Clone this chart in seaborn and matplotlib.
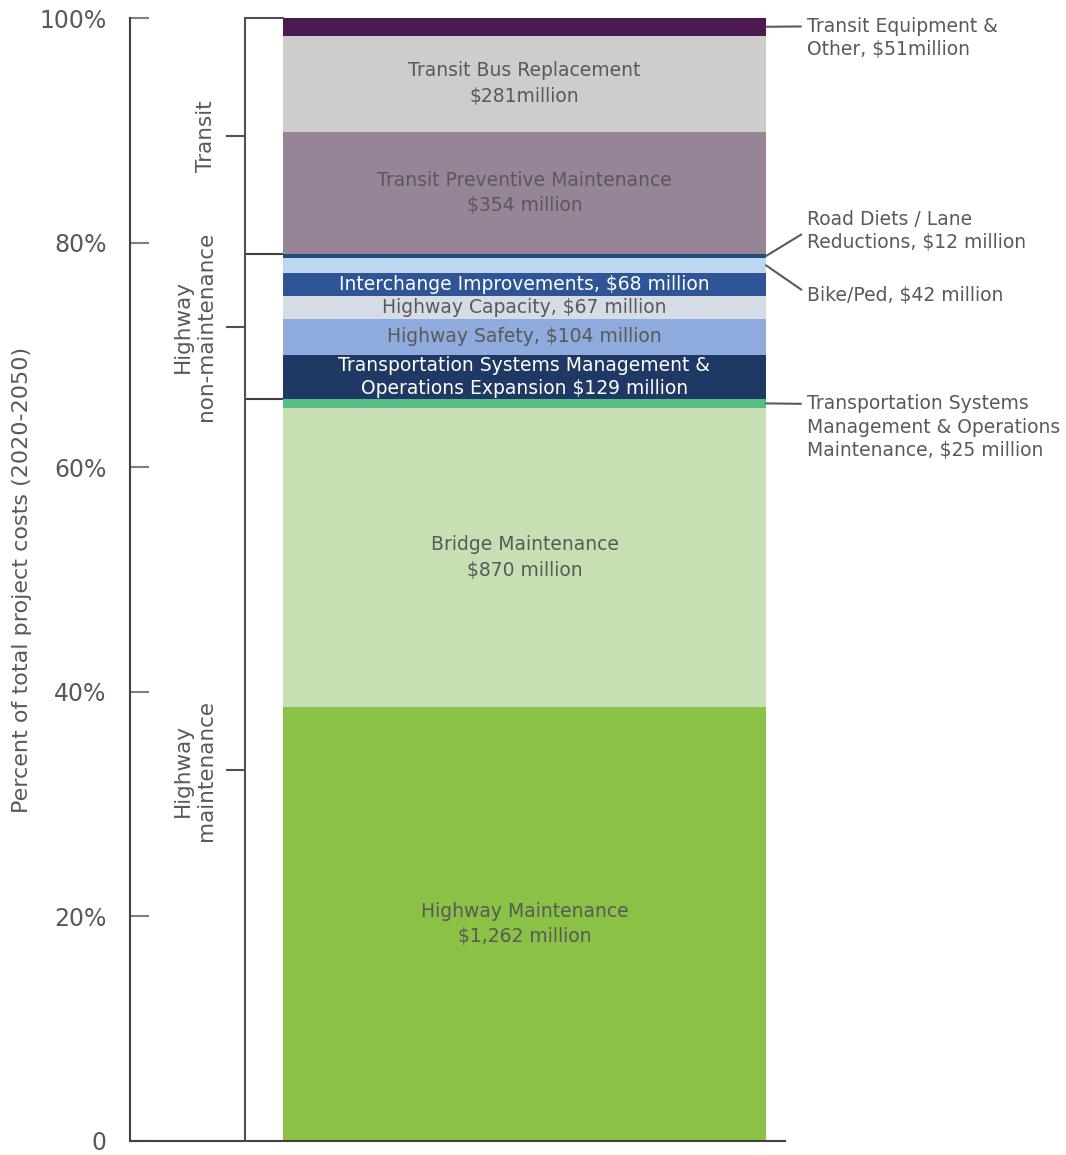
import numpy as np
import pandas as pd
import matplotlib
matplotlib.use("Agg")
import matplotlib.pyplot as plt
import seaborn as sns

# segments from bottom to top, values in $ million (2020-2050)
categories = [
    "Highway Maintenance", "Bridge Maintenance", "TSMO Maintenance",
    "TSMO Expansion", "Highway Safety", "Highway Capacity",
    "Interchange Improvements", "Bike/Ped", "Road Diets / Lane Reductions",
    "Transit Preventive Maintenance", "Transit Bus Replacement",
    "Transit Equipment & Other",
]
values = [1262, 870, 25, 129, 104, 67, 68, 42, 12, 354, 281, 51]
groups = ["Highway\nmaintenance"] * 3 + ["Highway\nnon-maintenance"] * 6 + ["Transit"] * 3
labels = [
    "Highway Maintenance\n$1,262 million",
    "Bridge Maintenance\n$870 million",
    "Transportation Systems\nManagement & Operations\nMaintenance, $25 million",
    "Transportation Systems Management &\nOperations Expansion $129 million",
    "Highway Safety, $104 million",
    "Highway Capacity, $67 million",
    "Interchange Improvements, $68 million",
    "Bike/Ped, $42 million",
    "Road Diets / Lane\nReductions, $12 million",
    "Transit Preventive Maintenance\n$354 million",
    "Transit Bus Replacement\n$281million",
    "Transit Equipment &\nOther, $51million",
]
colors = ["#8BC145", "#C6E0B4", "#58BC86", "#1F3864", "#8FAADC", "#D6DCE5",
          "#2F5597", "#BDD7EE", "#1F4E79", "#978497", "#CFCDCB", "#4B1A51"]
text_colors = ["#595959"] * 12
text_colors[3] = "white"
text_colors[6] = "white"
# labels placed outside the bar: index -> (dy in points, relpos y)
outside = {2: (-17, 0.85), 7: (-22, 0.62), 8: (18, 0.5), 11: (-8, 0.77)}

df = pd.DataFrame({"category": categories, "value": values, "group": groups})
df["pct"] = df["value"] / df["value"].sum() * 100
df["top"] = df["pct"].cumsum()
df["bottom"] = df["top"] - df["pct"]
df["mid"] = (df["top"] + df["bottom"]) / 2

sns.set_style("white")
plt.rcParams["font.family"] = ["DejaVu Sans"]
grey = "#595959"

W, H = 1066, 1155
fig = plt.figure(figsize=(W / 100, H / 100), dpi=100)
# main axis: left spine at x=130px, bottom at y=1141px, top (100%) at y=18px
ax = fig.add_axes([130 / W, (H - 1141) / H, (785 - 130) / W, (1141 - 18) / H])

# stacked bar: draw cumulative totals from the top down so smaller ones cover
for i in reversed(range(len(df))):
    sns.barplot(x=["all"], y=[df["top"][i]], color=colors[i], saturation=1,
                width=0.8, linewidth=0, ax=ax)

# put the bar between 283px and 766px
L = 655 * 0.8 / 483
x0 = -(524.5 - 130) / 655 * L
ax.set_xlim(x0, x0 + L)
ax.set_ylim(0, 100)

for i, row in df.iterrows():
    if i in outside:
        dy, rel = outside[i]
        ax.annotate(labels[i], xy=(0.4, row["mid"]), xytext=(29.5, dy),
                    textcoords="offset points", ha="left", va="center",
                    fontsize=13.5, color=grey, annotation_clip=False,
                    linespacing=1.3,
                    arrowprops=dict(arrowstyle="-", color=grey, lw=1.5,
                                    relpos=(0, rel), shrinkA=2, shrinkB=0))
    else:
        two_line = "\n" in labels[i] and text_colors[i] != "white"
        ax.text(0, row["mid"], labels[i], ha="center", va="center",
                fontsize=13.5, color=text_colors[i],
                linespacing=1.45 if two_line else 1.25)

sns.despine(ax=ax, top=True, right=True)
ax.spines["left"].set_color("#404040")
ax.spines["bottom"].set_color("#404040")
ax.spines["left"].set_linewidth(1.5)
ax.spines["bottom"].set_linewidth(1.5)
ax.set_yticks([0, 20, 40, 60, 80, 100])
ax.set_yticklabels(["0", "20%", "40%", "60%", "80%", "100%"])
ax.tick_params(axis="y", direction="in", length=14, width=1.5, color="#7F7F7F",
               labelsize=17, labelcolor=grey, pad=17, left=True)
ax.set_xticks([])
ax.set_xlabel("")
ax.set_ylabel("Percent of total project costs (2020-2050)", fontsize=16,
              color=grey, labelpad=5)

# group bracket between the axis and the bar
g = df.groupby("group", sort=False).agg(lo=("bottom", "min"), hi=("top", "max"))
g["center"] = (g["lo"] + g["hi"]) / 2
ax2 = fig.add_axes([245 / W, (H - 1141) / H, (283 - 245) / W, (1141 - 18) / H])
ax2.patch.set_alpha(0)
ax2.set_xlim(0, 1)
ax2.set_ylim(0, 100)
for s in ["right", "bottom"]:
    ax2.spines[s].set_visible(False)
for s in ["left", "top"]:
    ax2.spines[s].set_color("#505050")
    ax2.spines[s].set_linewidth(1.5)
for b in g["hi"].iloc[:-1]:
    ax2.axhline(b, color="#404040", lw=1.5)
ax2.set_xticks([])
ax2.set_yticks(g["center"])
ax2.set_yticklabels(g.index, rotation=90, va="center", ha="right",
                    multialignment="center", linespacing=1.2)
ax2.tick_params(axis="y", direction="out", length=14, width=1.5, color="#505050",
                labelsize=15.5, labelcolor=grey, pad=7, left=True)

fig.savefig("out.png", dpi=100)
